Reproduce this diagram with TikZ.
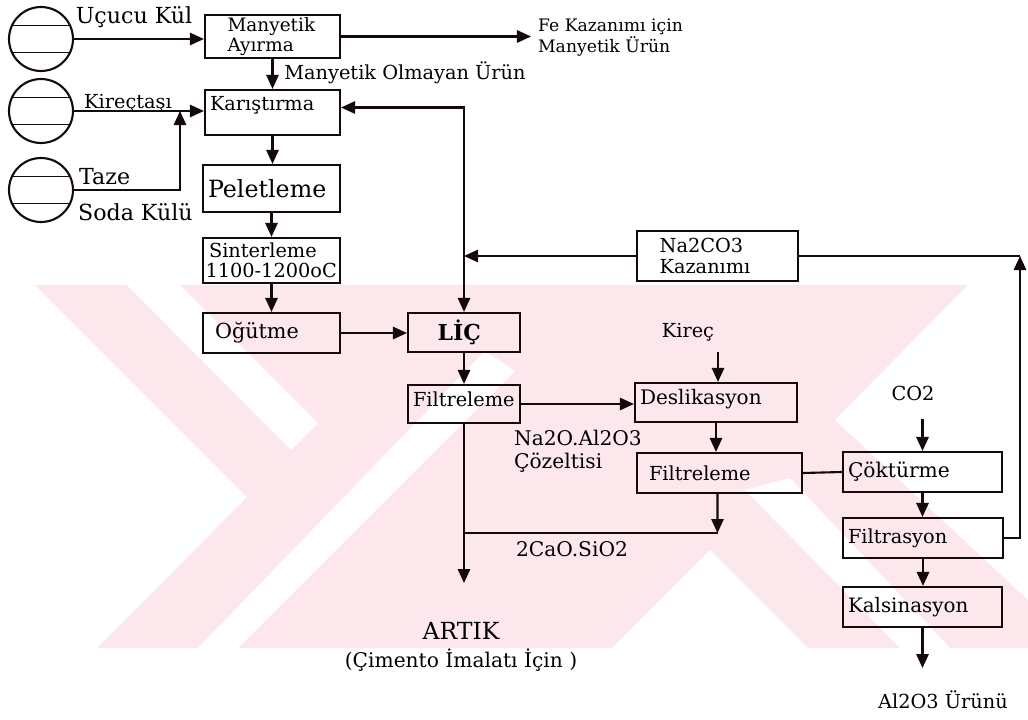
\documentclass[tikz,border=0pt]{standalone}
\usepackage{fontspec}
\setmainfont{DejaVu Serif}
\usetikzlibrary{arrows.meta, calc}
\definecolor{wpink}{RGB}{252,232,236}
\definecolor{lcol} {RGB}{ 20, 10, 10}
\tikzset{
  proc/.style={draw=lcol, line width=1.2pt, rectangle, inner xsep=0.1cm, inner ysep=1pt,
               align=left, font=\rmfamily\fontsize{11}{11.5}\selectfont},
  lbl/.style={font=\rmfamily\fontsize{11}{12}\selectfont, inner sep=1pt},
  big/.style={font=\rmfamily\fontsize{12.6}{13}\selectfont},
  tank/.style={circle, draw=lcol, line width=1.2pt, minimum size=1.28cm, inner sep=0pt,
               path picture={
                 \draw[lcol, line width=1.1pt]
                   ([yshift=0.27cm]path picture bounding box.west) -- ([yshift=0.27cm]path picture bounding box.east)
                   ([yshift=-0.27cm]path picture bounding box.west) -- ([yshift=-0.27cm]path picture bounding box.east);}},
  arr/.style={lcol, line width=1.2pt, -{Triangle[length=8pt,width=7pt]}},
  ln/.style={lcol, line width=1.2pt},
}

\begin{document}
\begin{tikzpicture}[x=0.02cm, y=-0.02cm]
\useasboundingbox (0,0) rectangle (1028,720);

%% ================================================================
%%  WATERMARK
%% ================================================================
\fill[wpink] (35,285) rectangle (1028,648);
\fill[white] (0,285) -- (35,285) -- (247,497) -- (97,648) -- (0,648) -- cycle;
\fill[white] (127,285) -- (180,285) -- (318,423) -- (291,450) -- cycle;
\fill[white] (198,648) -- (238,648) -- (515,371) -- (485,351) -- cycle;
\fill[white] (710,550) -- (612,648) -- (808,648) -- cycle;
\fill[white] (745,490) -- (790,478) -- (950,648) -- (900,648) -- cycle;
\fill[white] (968,285) -- (1028,285) -- (1028,600) -- (835,420) -- cycle;

%% ================================================================
%%  FEED TANKS
%% ================================================================
\node[tank] (t1) at (41,39)  {};
\node[tank] (t2) at (41,111) {};
\node[tank] (t3) at (41,190) {};

\node[lbl, big] (ucucu) at (134,17) {Uçucu Kül};
\node[lbl] (kirectasi) at (128,103) {Kireçtaşı};
\node[lbl, big, anchor=west] (taze) at (77,177) {Taze};
\node[lbl, big, anchor=west] (soda) at (76,212) {Soda Külü};

%% ================================================================
%%  LEFT COLUMN
%% ================================================================
\node[proc, minimum width=2.70cm, minimum height=0.86cm, text width=2.50cm, font=\fontsize{10.5}{11}\selectfont] (manyetik) at (272.5,36.5) {\hspace{10pt}Manyetik\\\hspace{10pt}Ayırma};
\node[proc, minimum width=2.70cm, minimum height=0.90cm, text width=2.50cm, text depth=10pt] (karis) at (272.5,112.5) {Karıştırma};
\node[proc, minimum width=2.74cm, minimum height=0.94cm, text width=2.54cm, font=\fontsize{13.5}{14}\selectfont] (pelet) at (271.5,188.5) {Peletleme};
\node[proc, minimum width=2.74cm, minimum height=0.90cm, text width=2.64cm, inner xsep=0.05cm] (sinter) at (271.5,260.5) {\hspace{2pt}Sinterleme\\1100-1200oC};
\node[proc, minimum width=2.74cm, minimum height=0.80cm, text width=2.54cm, font=\fontsize{11.8}{12}\selectfont] (ogut) at (271.5,333) {\hspace{4pt}Oğütme};

\node[lbl] (olmayan) at (405,73) {Manyetik Olmayan Ürün};
\node[lbl, anchor=west, align=left, font=\rmfamily\fontsize{9.8}{9}\selectfont] (fe) at (536,38) {Fe Kazanımı için\\Manyetik Ürün};

%% ================================================================
%%  LEACH LINE
%% ================================================================
\node[proc, minimum width=2.24cm, minimum height=0.78cm, text width=2.04cm, font=\fontsize{12.5}{13}\selectfont\bfseries] (lic) at (464,332.5) {\hspace{14pt}LİÇ};
\node[proc, minimum width=2.24cm, minimum height=0.76cm, text width=2.04cm, text depth=6pt] (filt1) at (464,404) {Filtreleme};
\node[proc, minimum width=3.22cm, minimum height=1.00cm, text width=3.02cm] (na2co3) at (717.5,256) {\hspace{10pt}Na2CO3\\\hspace{10pt}Kazanımı};
\node[proc, minimum width=3.24cm, minimum height=0.78cm, text width=3.04cm, font=\fontsize{11.4}{12}\selectfont, text depth=6pt] (deslik) at (716,402.5) {Deslikasyon};
\node[proc, minimum width=3.30cm, minimum height=0.80cm, text width=3.10cm] (filt2) at (719.5,473) {\hspace{4pt}Filtreleme};

\node[lbl] (kirec) at (688,332) {Kireç};
\node[lbl, anchor=north west, align=left, font=\rmfamily\fontsize{11.5}{13}\selectfont] (cozelti) at (512,428) {Na2O.Al2O3\\Çözeltisi};
\node[lbl, font=\rmfamily\fontsize{11.5}{12}\selectfont] (casio) at (572,549) {2CaO.SiO2};
\node[lbl, align=center, font=\rmfamily\fontsize{11.5}{12}\selectfont] (artik) at (461,647) {{\fontsize{13.4}{14}\selectfont ARTIK}\\[4pt](Çimento İmalatı İçin )};

%% ================================================================
%%  PRECIPITATION LINE
%% ================================================================
\node[proc, minimum width=3.18cm, minimum height=0.80cm, text width=2.98cm, font=\fontsize{11.5}{12}\selectfont] (coktur) at (922.5,472) {Çöktürme};
\node[proc, minimum width=3.20cm, minimum height=0.80cm, text width=3.00cm] (filtras) at (923,538) {Filtrasyon};
\node[proc, minimum width=3.18cm, minimum height=0.80cm, text width=2.98cm, font=\fontsize{11.3}{12}\selectfont] (kalsin) at (922.5,607) {Kalsinasyon};

\node[lbl] (co2) at (913,393) {CO2};
\node[lbl] (urun) at (943,700) {Al2O3 Ürünü};

%% ================================================================
%%  CONNECTORS
%% ================================================================
\coordinate (kj) at (180,111);
\coordinate (jn) at (lic.north |- na2co3.west);
\coordinate (rc) at (1020,256);
\path (manyetik.east) ++(190,0) coordinate (feout);
\path (deslik.north) ++(2,-30) coordinate (kirecin);
\path (coktur.north) ++(0,-32) coordinate (co2in);
\path (kalsin.south) ++(0,40) coordinate (alout);
\path (filt1.south) ++(0,159) coordinate (artikin);
\coordinate (c2) at ($(filt2.south)+(-2,39)$);

\draw[arr] (t1.east) -- (t1.east -| manyetik.west);
\draw[arr] (manyetik.east) -- (feout);
\draw[arr] (manyetik.south) -- (karis.north);
\draw[arr] (t2.east) -- (t2.east -| karis.west);
\draw[arr] (t3.east) -| (kj);
\draw[arr] (karis.south) -- (karis.south |- pelet.north);
\draw[arr] (pelet.south) -- (sinter.north);
\draw[arr] (sinter.south) -- (ogut.north);
\draw[arr] (ogut.east) -- (ogut.east -| lic.west);

\draw[arr] (na2co3.west) -- (jn);
\draw[arr] (jn) |- ([yshift=0.1cm]karis.east);
\draw[arr] (jn) -- (lic.north);
\draw[arr] (lic.south) -- (filt1.north);
\draw[arr] (filt1.east) -- (filt1.east -| deslik.west);
\draw[arr] (kirecin) -- (kirecin |- deslik.north);
\draw[arr] (deslik.south) -- (deslik.south |- filt2.north);
\draw[arr] ([xshift=-0.04cm]filt2.south) -- (c2);
\draw[ln]  (c2) -- (c2 -| filt1.south);
\draw[arr] (filt1.south) -- (artikin);

\draw[ln]  (filt2.east) -- (coktur.west);
\draw[arr] (co2in) -- (coktur.north);
\draw[arr] (coktur.south) -- (coktur.south |- filtras.north);
\draw[arr] (filtras.south) -- (filtras.south |- kalsin.north);
\draw[arr] (kalsin.south) -- (alout);
\draw[arr] (filtras.east) -| (rc);
\draw[ln]  (rc) -- (na2co3.east);

\end{tikzpicture}
\end{document}
